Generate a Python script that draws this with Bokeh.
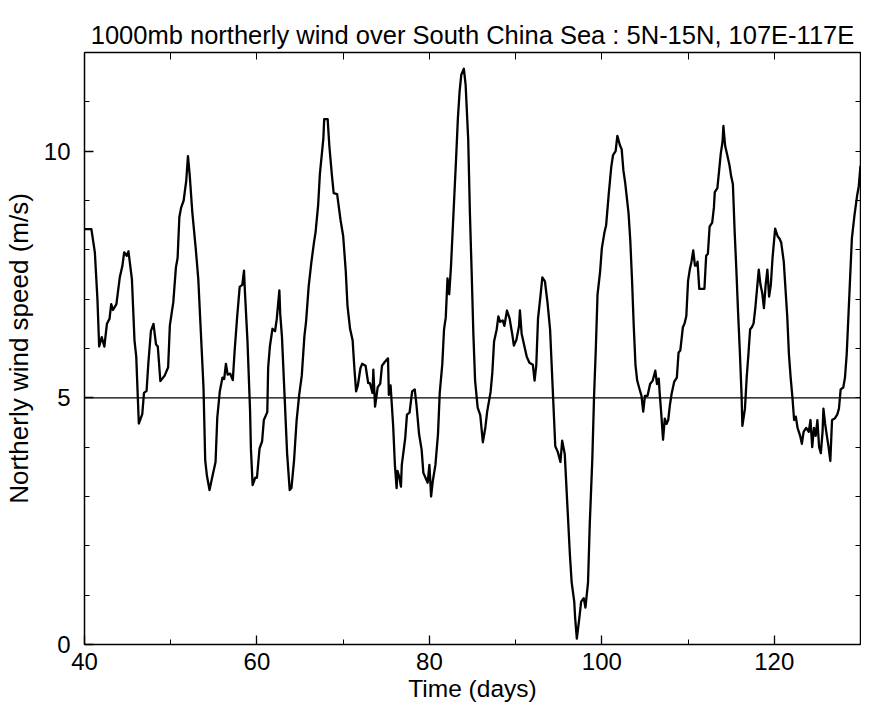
from bokeh.plotting import figure
from bokeh.models import Range1d, LinearAxis, FixedTicker, Span
from bokeh.embed import file_html
from bokeh.resources import INLINE

# ---- data ----
time_days = [
    40.0, 40.6, 40.8, 41.2, 41.5, 41.7, 42.0, 42.3, 42.6, 42.9, 43.1, 43.3, 43.7, 44.1, 44.4,
    44.6, 44.9, 45.1, 45.5, 45.8, 46.0, 46.3, 46.7, 46.9, 47.2, 47.4, 47.7, 48.0, 48.3, 48.5,
    48.8, 49.3, 49.7, 49.9, 50.3, 50.6, 50.8, 51.0, 51.2, 51.5, 51.8, 52.0, 52.2, 52.5, 52.9,
    53.2, 53.5, 53.8, 54.0, 54.2, 54.5, 54.8, 55.2, 55.4, 55.7, 56.0, 56.2, 56.4, 56.6, 56.9,
    57.2, 57.4, 57.7, 58.0, 58.3, 58.5, 58.6, 58.9, 59.2, 59.3, 59.5, 59.8, 60.0, 60.3, 60.6,
    60.8, 61.2, 61.3, 61.5, 61.8, 62.1, 62.3, 62.6, 62.7, 62.9, 63.2, 63.5, 63.8, 64.0, 64.3,
    64.6, 64.9, 65.2, 65.5, 65.7, 66.0, 66.3, 66.6, 66.8, 67.1, 67.3, 67.7, 67.8, 68.2, 68.4,
    68.7, 68.9, 69.3, 69.7, 70.0, 70.3, 70.5, 70.8, 71.1, 71.3, 71.5, 71.7, 72.0, 72.2, 72.6,
    72.9, 73.1, 73.4, 73.5, 73.7, 74.0, 74.3, 74.5, 74.8, 75.2, 75.3, 75.5, 75.8, 76.0, 76.2,
    76.3, 76.5, 76.7, 76.8, 77.2, 77.4, 77.7, 78.0, 78.3, 78.5, 78.8, 79.1, 79.3, 79.6, 79.8,
    80.0, 80.2, 80.4, 80.7, 81.0, 81.2, 81.5, 81.7, 81.9, 82.1, 82.3, 82.5, 82.8, 83.1, 83.3,
    83.5, 83.7, 84.0, 84.2, 84.5, 84.7, 84.9, 85.1, 85.3, 85.6, 85.9, 86.2, 86.5, 86.7, 87.1,
    87.3, 87.5, 87.8, 88.0, 88.2, 88.5, 88.7, 89.0, 89.3, 89.6, 89.8, 90.1, 90.4, 90.5, 90.7,
    91.0, 91.3, 91.6, 92.0, 92.2, 92.4, 92.6, 92.9, 93.1, 93.4, 93.7, 94.0, 94.3, 94.6, 94.9,
    95.2, 95.4, 95.7, 96.0, 96.3, 96.5, 96.8, 96.9, 97.1, 97.4, 97.6, 97.9, 98.1, 98.4, 98.6,
    98.9, 99.1, 99.3, 99.5, 99.8, 100.0, 100.3, 100.5, 100.8, 101.1, 101.3, 101.6, 101.8, 102.1,
    102.3, 102.5, 102.7, 103.1, 103.3, 103.5, 103.7, 103.9, 104.1, 104.4, 104.6, 104.8, 105.0,
    105.3, 105.6, 105.9, 106.2, 106.4, 106.6, 106.7, 106.9, 107.1, 107.3, 107.5, 107.7, 107.9,
    108.1, 108.4, 108.7, 108.9, 109.1, 109.4, 109.6, 109.8, 110.0, 110.2, 110.4, 110.6, 110.8,
    111.0, 111.1, 111.3, 111.7, 111.9, 112.1, 112.3, 112.5, 112.8, 113.0, 113.1, 113.4, 113.6,
    113.8, 114.0, 114.1, 114.3, 114.5, 114.8, 115.0, 115.2, 115.4, 115.6, 115.8, 116.0, 116.2,
    116.3, 116.6, 116.8, 117.0, 117.2, 117.4, 117.6, 117.8, 118.0, 118.2, 118.4, 118.6, 118.8,
    119.0, 119.2, 119.4, 119.6, 119.8, 120.1, 120.4, 120.6, 120.8, 121.1, 121.3, 121.5, 121.7,
    121.9, 122.1, 122.3, 122.5, 122.7, 123.0, 123.2, 123.4, 123.7, 124.0, 124.2, 124.4, 124.6,
    124.8, 125.0, 125.2, 125.4, 125.6, 125.7, 125.9, 126.1, 126.3, 126.5, 126.7, 127.0, 127.3,
    127.5, 127.7, 128.0, 128.2, 128.4, 128.6, 128.8, 129.0, 129.3, 129.6, 129.8, 130.0,
]
wind_speed = [
    8.42, 8.42, 8.42, 7.95, 7.00, 6.04, 6.23, 6.04, 6.50, 6.60, 6.90, 6.78, 6.90, 7.45, 7.68,
    7.95, 7.88, 7.97, 7.40, 6.16, 5.84, 4.48, 4.67, 5.10, 5.14, 5.69, 6.35, 6.50, 6.08, 6.04,
    5.34, 5.45, 5.62, 6.47, 6.94, 7.64, 7.84, 8.66, 8.85, 9.00, 9.40, 9.90, 9.52, 8.77, 8.03,
    7.40, 6.31, 5.22, 3.73, 3.42, 3.13, 3.38, 3.70, 4.60, 5.14, 5.41, 5.38, 5.69, 5.47, 5.49,
    5.36, 5.92, 6.63, 7.25, 7.29, 7.58, 7.17, 6.16, 4.75, 3.97, 3.23, 3.38, 3.38, 3.97, 4.12,
    4.55, 4.71, 5.61, 6.04, 6.40, 6.35, 6.60, 7.18, 6.70, 6.24, 5.06, 3.87, 3.13, 3.17, 3.72,
    4.54, 5.06, 5.45, 6.24, 6.55, 7.26, 7.73, 8.13, 8.36, 8.91, 9.54, 10.25, 10.65, 10.65, 10.10,
    9.50, 9.15, 9.13, 8.60, 8.28, 7.57, 6.87, 6.40, 6.16, 5.60, 5.13, 5.25, 5.60, 5.69, 5.65,
    5.30, 5.30, 5.10, 5.57, 4.82, 5.21, 5.29, 5.65, 5.72, 5.80, 5.06, 5.25, 4.43, 3.64, 3.17,
    3.52, 3.40, 3.20, 3.64, 4.19, 4.66, 4.70, 5.13, 5.17, 4.86, 4.27, 3.95, 3.48, 3.36, 3.28,
    3.64, 3.00, 3.32, 3.64, 4.27, 5.10, 5.69, 6.39, 6.63, 7.42, 7.10, 7.65, 8.76, 9.86, 10.65,
    11.20, 11.55, 11.67, 11.35, 10.25, 8.74, 7.56, 6.30, 5.35, 4.80, 4.65, 4.10, 4.41, 4.72, 5.12,
    5.51, 6.14, 6.38, 6.65, 6.54, 6.57, 6.46, 6.77, 6.61, 6.30, 6.06, 6.18, 6.46, 6.77, 6.30,
    6.06, 5.83, 5.71, 5.67, 5.35, 5.67, 6.61, 7.09, 7.44, 7.36, 6.93, 6.38, 5.20, 4.02, 3.90,
    3.70, 4.13, 3.86, 2.83, 1.81, 1.26, 0.87, 0.55, 0.12, 0.55, 0.87, 0.94, 0.75, 1.26, 2.44,
    3.78, 5.04, 5.98, 7.09, 7.56, 8.03, 8.35, 8.50, 9.13, 9.69, 9.92, 10.00, 10.31, 10.12,
    10.04, 9.61, 9.37, 8.74, 8.19, 7.40, 6.46, 5.67, 5.35, 5.16, 5.04, 4.72, 5.04,
    5.04, 5.28, 5.35, 5.55, 5.28, 5.39, 5.12, 4.66, 4.15, 4.58, 4.47, 4.55, 4.86,
    5.09, 5.33, 5.41, 5.92, 5.96, 6.43, 6.51, 6.66, 7.37, 7.60, 7.76, 7.99, 7.68,
    7.68, 7.76, 7.21, 7.21, 7.21, 7.88, 7.92, 8.47, 8.55, 8.86, 9.17, 9.25, 9.60,
    9.96, 10.19, 10.51, 10.11, 9.96, 9.72, 9.49, 9.33, 8.39, 7.60, 6.74, 5.96, 5.09,
    4.43, 4.78, 5.41, 5.88, 6.39, 6.43, 6.51, 6.82, 7.21, 7.60, 7.29, 7.13, 6.82,
    7.29, 7.60, 7.05, 7.29, 7.84, 8.43, 8.27, 8.23, 8.15, 7.76, 7.21, 6.66, 5.88,
    5.41, 5.02, 4.55, 4.62, 4.39, 4.23, 4.07, 4.31, 4.39, 4.31, 4.55, 4.00, 4.39,
    4.23, 4.55, 4.00, 3.88, 4.31, 4.78, 4.47, 4.23, 4.00, 3.72, 4.55, 4.58, 4.66,
    4.78, 5.17, 5.21, 5.41, 5.88, 6.66, 7.45, 8.23, 8.70, 9.09, 9.29, 9.70,
]
reference_level = 5
x_major_ticks = [40, 60, 80, 100, 120]
x_minor_ticks = [40, 50, 60, 70, 80, 90, 100, 110, 120, 130]
y_major_ticks = [0, 5, 10]
y_minor_ticks = list(range(0, 13))

FONT = "Liberation Sans"

p = figure(frame_width=776, frame_height=592, x_range=Range1d(40, 130), y_range=Range1d(0, 12),
           output_backend="svg", toolbar_location=None,
           min_border_left=84, min_border_right=1, min_border_top=52, min_border_bottom=57,
           x_axis_location=None, y_axis_location=None)
p.outline_line_color = None
p.grid.visible = False
p.background_fill_color = "white"
p.border_fill_color = "white"

p.title.text = "1000mb northerly wind over South China Sea : 5N-15N, 107E-117E"
p.title.text_font = FONT
p.title.text_font_size = "25.5px"
p.title.text_font_style = "normal"
p.title.align = "center"
p.title.offset = 4
p.title.text_color = "black"
p.title.standoff = 8


def style_axis(ax, labels=True):
    ax.axis_line_color = "black"
    ax.axis_line_width = 1.5
    ax.major_tick_in = 9
    ax.major_tick_out = 0
    ax.minor_tick_in = 5
    ax.minor_tick_out = 0
    ax.major_tick_line_color = "black"
    ax.minor_tick_line_color = "black"
    ax.major_tick_line_width = 1.3
    ax.minor_tick_line_width = 1.0
    if labels:
        ax.major_label_text_font = FONT
        ax.major_label_text_font_size = "24px"
        ax.major_label_text_color = "black"
        ax.axis_label_text_font = FONT
        ax.axis_label_text_font_size = "24.5px"
        ax.axis_label_text_font_style = "normal"
        ax.axis_label_text_color = "black"
    else:
        ax.major_label_standoff = 0
        ax.axis_label_standoff = 0


# bottom / left axes carry the labels
xb = LinearAxis(ticker=FixedTicker(ticks=x_major_ticks, minor_ticks=x_minor_ticks),
                axis_label="Time (days)")
style_axis(xb)
xb.major_label_standoff = 8
xb.axis_label_standoff = 2
p.add_layout(xb, "below")

yl = LinearAxis(ticker=FixedTicker(ticks=y_major_ticks, minor_ticks=y_minor_ticks),
                axis_label="Northerly wind speed (m/s)")
style_axis(yl)
yl.axis_label_text_font_size = "26px"
yl.major_label_standoff = 14
yl.axis_label_standoff = 7
p.add_layout(yl, "left")

# mirrored frame axes on top / right: ticks only, no labels
xa = LinearAxis(ticker=FixedTicker(ticks=[], minor_ticks=x_minor_ticks))
style_axis(xa, labels=False)
xa.minor_tick_in = 7
p.add_layout(xa, "above")

yr = LinearAxis(ticker=FixedTicker(ticks=[], minor_ticks=y_minor_ticks))
style_axis(yr, labels=False)
p.add_layout(yr, "right")

p.add_layout(Span(location=reference_level, dimension="width", line_color="black", line_width=1.1))

p.line(time_days, wind_speed, line_color="black", line_width=2.3, line_join="round")

open("out.html", "w").write(file_html(p, INLINE))
